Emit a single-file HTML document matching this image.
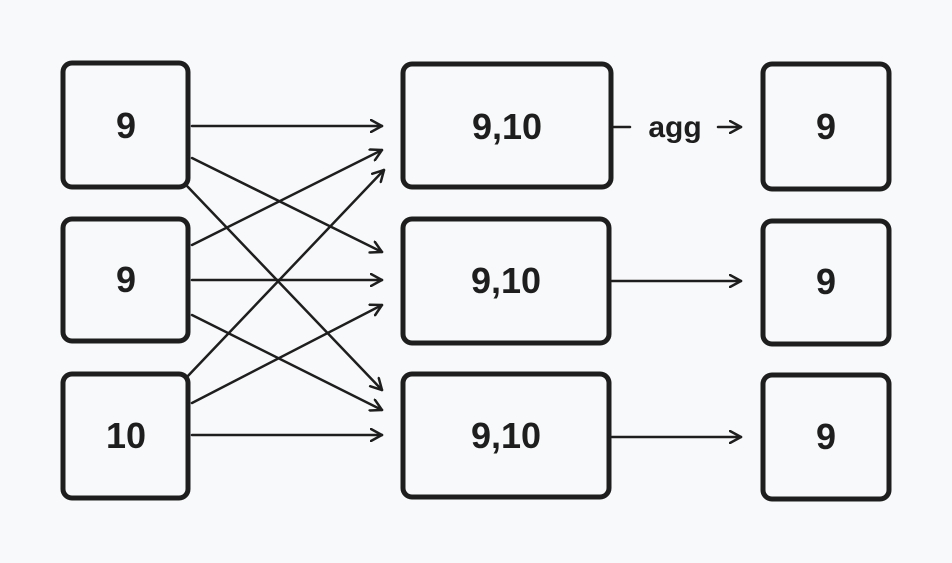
<!DOCTYPE html>
<html><head><meta charset="utf-8"><style>
html,body{margin:0;padding:0;background:#f8f9fa;}
svg{display:block}
text{font-family:"Liberation Sans",sans-serif;font-weight:bold;fill:#1e1e1e}
</style></head><body>
<svg width="952" height="563" viewBox="0 0 952 563">
<defs>
<marker id="ah" markerWidth="14" markerHeight="14" refX="12" refY="7" orient="auto" markerUnits="userSpaceOnUse">
<path d="M1,1 L12,7 L1,13" fill="none" stroke="#1e1e1e" stroke-width="2.5" stroke-linecap="round" stroke-linejoin="round"/>
</marker>
</defs>
<g fill="none" stroke="#1e1e1e" stroke-width="5" stroke-linejoin="round">
<rect x="63" y="63" width="125" height="124" rx="9"/>
<rect x="63" y="219" width="125" height="122" rx="9"/>
<rect x="63" y="374" width="125" height="124" rx="9"/>
<rect x="403" y="64" width="208" height="123" rx="9"/>
<rect x="403" y="219" width="206" height="124" rx="9"/>
<rect x="403" y="374" width="206" height="123" rx="9"/>
<rect x="763" y="64" width="126" height="125" rx="9"/>
<rect x="763" y="221" width="126" height="123" rx="9"/>
<rect x="763" y="375" width="126" height="124" rx="9"/>
</g>
<g stroke="#1e1e1e" stroke-width="2.5" stroke-linecap="round" marker-end="url(#ah)" fill="none">
<line x1="192" y1="126" x2="382" y2="126"/>
<line x1="192" y1="158" x2="382" y2="252"/>
<line x1="187" y1="186" x2="382" y2="390"/>
<line x1="192" y1="245" x2="382" y2="150"/>
<line x1="192" y1="280" x2="382" y2="280"/>
<line x1="192" y1="315" x2="382" y2="410"/>
<line x1="186" y1="378" x2="384" y2="170"/>
<line x1="192" y1="403" x2="382" y2="305"/>
<line x1="192" y1="435" x2="382" y2="435"/>
<line x1="718" y1="127" x2="741" y2="127"/>
<line x1="612" y1="281" x2="741" y2="281"/>
<line x1="612" y1="437" x2="741" y2="437"/>
</g>
<line x1="614" y1="127" x2="630" y2="127" stroke="#1e1e1e" stroke-width="2.5" stroke-linecap="round"/>
<g font-size="36" text-anchor="middle">
<text x="126" y="138">9</text>
<text x="126" y="292">9</text>
<text x="126" y="448">10</text>
<text x="507" y="139">9,10</text>
<text x="506" y="293">9,10</text>
<text x="506" y="448">9,10</text>
<text x="826" y="139">9</text>
<text x="826" y="294">9</text>
<text x="826" y="449">9</text>
</g>
<text x="675" y="137" font-size="30" text-anchor="middle">agg</text>
</svg>
</body></html>
